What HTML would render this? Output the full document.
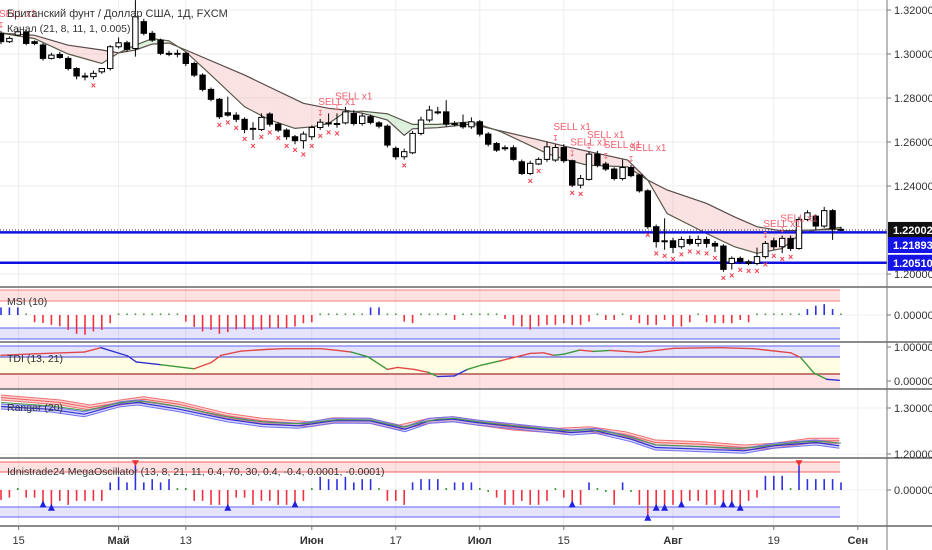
<!DOCTYPE html>
<html><head><meta charset="utf-8"><style>
html,body{margin:0;padding:0;background:#fff;}
svg{display:block;font-family:"Liberation Sans","DejaVu Sans",sans-serif;}
</style></head><body>
<svg id="chart" width="932" height="550" viewBox="0 0 932 550" xmlns="http://www.w3.org/2000/svg"></svg>
<script>
// ===== data =====
const opens=[1.3094,1.3056,1.3086,1.3101,1.3056,1.3041,1.2980,1.2998,1.2980,1.2934,1.2900,1.2897,1.2919,1.2934,1.3033,1.3051,1.3025,1.3147,1.3094,1.3063,1.3003,1.3003,1.3003,1.2957,1.2904,1.2839,1.2794,1.2733,1.2722,1.2703,1.2662,1.2657,1.2727,1.2681,1.2654,1.2624,1.2606,1.2624,1.2666,1.2687,1.2684,1.2687,1.2730,1.2684,1.2715,1.2687,1.2672,1.2571,1.2533,1.2551,1.2639,1.2700,1.2737,1.2737,1.2684,1.2687,1.2669,1.2692,1.2636,1.2593,1.2574,1.2574,1.2510,1.2457,1.2500,1.2521,1.2518,1.2575,1.2515,1.2404,1.2430,1.2545,1.2500,1.2477,1.2434,1.2484,1.2450,1.2378,1.2215,1.2151,1.2151,1.2124,1.2157,1.2139,1.2157,1.2139,1.2127,1.2048,1.2071,1.2056,1.2048,1.2079,1.2151,1.2124,1.2162,1.2116,1.2248,1.2263,1.2218,1.2288,1.2203];
const closes=[1.3056,1.3071,1.3101,1.3048,1.3048,1.2980,1.2995,1.2984,1.2934,1.2900,1.2899,1.2912,1.2934,1.3033,1.3051,1.3021,1.3169,1.3094,1.3063,1.3003,1.3002,1.3002,1.2957,1.2904,1.2839,1.2794,1.2715,1.2722,1.2703,1.2657,1.2661,1.2712,1.2681,1.2654,1.2624,1.2606,1.2636,1.2666,1.2690,1.2686,1.2683,1.2737,1.2684,1.2718,1.2689,1.2672,1.2586,1.2533,1.2556,1.2639,1.2700,1.2745,1.2736,1.2681,1.2683,1.2669,1.2692,1.2636,1.2590,1.2563,1.2573,1.2521,1.2457,1.2503,1.2521,1.2578,1.2575,1.2515,1.2404,1.2434,1.2545,1.2495,1.2477,1.2434,1.2484,1.2447,1.2378,1.2215,1.2147,1.2150,1.2121,1.2157,1.2139,1.2157,1.2139,1.2127,1.2021,1.2071,1.2056,1.2048,1.2079,1.2139,1.2124,1.2162,1.2116,1.2248,1.2278,1.2218,1.2288,1.2207,1.2200];
const highs=[1.3105,1.3080,1.3115,1.3110,1.3062,1.3050,1.3005,1.3010,1.2990,1.2940,1.2915,1.2925,1.2930,1.3040,1.3075,1.3060,1.3245,1.3160,1.3105,1.3070,1.3015,1.3020,1.3010,1.2965,1.2912,1.2848,1.2800,1.2806,1.2735,1.2712,1.2690,1.2730,1.2735,1.2690,1.2662,1.2632,1.2648,1.2675,1.2705,1.2730,1.2730,1.2760,1.2745,1.2730,1.2725,1.2695,1.2680,1.2580,1.2570,1.2650,1.2715,1.2765,1.2760,1.2790,1.2695,1.2725,1.2712,1.2700,1.2645,1.2600,1.2585,1.2585,1.2520,1.2515,1.2530,1.2600,1.2590,1.2590,1.2520,1.2450,1.2555,1.2560,1.2510,1.2485,1.2520,1.2495,1.2455,1.2385,1.2225,1.2253,1.2165,1.2170,1.2175,1.2175,1.2170,1.2150,1.2135,1.2080,1.2080,1.2065,1.2120,1.2150,1.2165,1.2175,1.2175,1.2260,1.2290,1.2270,1.2305,1.2295,1.2215];
const lows=[1.3045,1.3050,1.3080,1.3040,1.3040,1.2970,1.2975,1.2978,1.2925,1.2885,1.2880,1.2885,1.2910,1.2925,1.3025,1.3010,1.2988,1.3085,1.3055,1.2995,1.2990,1.2985,1.2945,1.2895,1.2830,1.2785,1.2705,1.2715,1.2690,1.2640,1.2609,1.2650,1.2670,1.2645,1.2610,1.2590,1.2570,1.2610,1.2655,1.2670,1.2665,1.2680,1.2675,1.2675,1.2680,1.2662,1.2575,1.2520,1.2520,1.2545,1.2630,1.2690,1.2725,1.2670,1.2670,1.2660,1.2660,1.2625,1.2580,1.2555,1.2560,1.2515,1.2450,1.2450,1.2495,1.2510,1.2510,1.2505,1.2395,1.2390,1.2425,1.2485,1.2468,1.2425,1.2425,1.2440,1.2370,1.2205,1.2120,1.2110,1.2095,1.2115,1.2130,1.2125,1.2120,1.2100,1.2010,1.2020,1.2045,1.2040,1.2040,1.2070,1.2110,1.2095,1.2105,1.2110,1.2240,1.2200,1.2210,1.2155,1.2195];
// channel cloud lines
const slowIdx=[0,4,8,12,14,16,18,20,22,29,36,39,41,43,46,48,49,52,56,65,67.4,74.6,77,79.3,84,87.3,90,92.8,97,100];
const slowVal=[1.3095,1.3085,1.3040,1.3018,1.3005,1.3018,1.3045,1.3050,1.3018,1.2904,1.2776,1.2753,1.2745,1.2731,1.2700,1.2630,1.2660,1.2665,1.2682,1.2601,1.2578,1.2518,1.2427,1.2382,1.2321,1.2260,1.2215,1.2197,1.2200,1.2203];
const fastIdx=[0,4,8,12,14,16,18,20,22,25,29,32,35,37,39,41,43,46,49,52,56,59.5,65,67.4,69.8,74.6,77,79.3,84,87.3,90,93,95.2,97,100];
const fastVal=[1.3095,1.3070,1.3000,1.2957,1.3005,1.3040,1.3070,1.3060,1.3010,1.2904,1.2760,1.2700,1.2662,1.2669,1.2684,1.2737,1.2740,1.2728,1.2680,1.2680,1.2692,1.2647,1.2548,1.2518,1.2495,1.2487,1.2427,1.2275,1.2184,1.2124,1.2094,1.2116,1.2184,1.2200,1.2212];
const crossIdx=[11,26,27,28,29,30,31,32,33,34,35,36,37,38,39,40,48,63,64,68,69,77,78,79,80,81,82,83,84,85,86,87,88,89,90,91,92,93,94];
const sellIdx=[0,38,40,66,68,70,72,75,91,93];
const levels=[1.21893,1.20510];
const lastPrice=1.22002;
const priceTicks=[1.32,1.30,1.28,1.26,1.24,1.20];
// MSI
const msi=[0.23,0.23,0.23,0,-0.22,-0.24,-0.30,-0.34,-0.45,-0.57,-0.60,-0.50,-0.45,-0.25,0.02,0.02,0,0.02,0.02,0.02,0.02,0.02,-0.20,-0.36,-0.50,-0.45,-0.57,-0.52,-0.44,-0.42,-0.45,-0.45,-0.39,-0.40,-0.39,-0.35,-0.25,-0.22,0.02,0.02,0.02,0.02,0.02,0.02,0.23,0.23,0.02,0,-0.20,-0.25,0.02,0.02,0.02,0.02,-0.15,0.02,0.02,0,0.02,0.02,-0.12,-0.32,-0.35,-0.44,-0.34,-0.30,-0.30,-0.25,-0.30,-0.30,-0.20,0.02,-0.15,-0.15,0.02,-0.15,-0.25,-0.30,-0.30,-0.15,-0.35,-0.35,-0.22,0.02,-0.22,-0.25,-0.25,-0.25,-0.15,-0.22,0,0.02,0,0.02,0,0.02,0.18,0.28,0.33,0.18,0.02];
// TDI
const tdiIdx=[0,4,9.9,11.9,15.1,16.1,19,23,25,26.2,28.6,31.7,33.7,38.1,40.1,41.7,43.7,46,47.2,49.2,50.8,52,54,55.5,57.1,59.4,61,63,64.6,65.8,67,68.9,70.5,72.5,76,80.1,85.6,89.6,94,95.2,96.8,98.3,99.8];
const tdiVal=[0.755,0.80,0.85,0.98,0.735,0.56,0.48,0.36,0.54,0.755,0.88,0.93,0.95,0.95,0.90,0.85,0.71,0.34,0.40,0.34,0.26,0.13,0.15,0.34,0.46,0.59,0.69,0.81,0.83,0.755,0.79,0.91,0.87,0.90,0.84,0.96,0.98,0.95,0.83,0.69,0.23,0.05,0.02];
const tdiCol="rrrbbbgrrrrrrrrggrrrgbbggrrrrggrgrrrrrrggbb";
// Ranger
const rngIdx=[0,7.1,10.6,14.2,17,21.2,26.9,31.1,36.8,39.6,43.9,47.4,51,53.8,56.6,60.9,66.5,70.1,74.3,77.9,83.5,88.5,92,96.3,99.8];
const rngUp=[1.3283,1.3174,1.3065,1.3174,1.3246,1.3137,1.2884,1.2776,1.2703,1.2790,1.2776,1.2630,1.2776,1.2812,1.2739,1.2630,1.2558,1.2594,1.2485,1.2304,1.2267,1.2196,1.2232,1.2341,1.2341];
const rngLoIdx=[0,5.7,9.9,14.2,16.3,21.2,26.9,31.1,35.4,39.6,43.9,48.1,51,53.8,56.6,62.3,67.9,70.8,75,77.9,83.5,88.5,92,97,99.8];
const rngLo=[1.2978,1.2920,1.2811,1.3028,1.3065,1.2920,1.2703,1.2594,1.2558,1.2667,1.2667,1.2485,1.2667,1.2703,1.2630,1.2522,1.2413,1.2450,1.2267,1.2087,1.2050,1.2015,1.2124,1.2196,1.2124];
// MegaOscillator
const osc=[-0.30,-0.23,0.02,-0.23,-0.23,-0.50,-0.60,-0.33,-0.45,-0.33,-0.33,-0.33,-0.33,0.23,0.40,0.23,0.75,0.23,0.33,0.23,0.33,0.02,0.02,-0.33,-0.33,-0.45,-0.45,-0.60,-0.23,-0.23,-0.45,-0.33,-0.33,-0.45,-0.45,-0.50,-0.33,0.02,0.40,0.33,0.33,0.40,0.23,0.33,0.33,0.02,-0.33,-0.33,-0.45,0.23,0.33,0.33,0.33,0.02,0.23,0.23,0.23,0.02,-0.02,-0.23,-0.45,-0.45,-0.33,-0.45,-0.45,-0.33,0.02,-0.23,-0.50,-0.45,0.23,0.02,-0.02,-0.45,0.23,-0.02,-0.45,-0.90,-0.60,-0.60,-0.45,-0.50,-0.33,-0.33,-0.45,-0.45,-0.50,-0.50,-0.60,-0.33,-0.23,0.43,0.43,0.43,0.02,0.75,0.33,0.33,0.33,0.33,0.23];
const buyTri=[5,6,27,35,68,77,78,79,81,86,87,88];
const sellTri=[16,95];
const timeLabels=["15","Май","13","Июн","17","Июл","15","Авг","19","Сен"];
const timeIdx=[2.1,14,22,37,47,57,67,80,92,102];
const boldLabel=[false,true,false,true,false,true,false,true,false,true];

// ===== scales =====
const svg=document.getElementById('chart');
const NS='http://www.w3.org/2000/svg';
const PLOT_R=887;
function xOf(i){return 1+i*8.4;}
function yP(p){return 10+(1.32-p)*2200;}
function yMsi(v){return 315-v*33;}
function yTdi(v){return 381-v*34;}
function yRng(v){return 408+(1.30-v)*460;}
function yOsc(v){return 490-v*33;}
function mk(tag,attrs,parent){const e=document.createElementNS(NS,tag);for(const k in attrs)e.setAttribute(k,attrs[k]);(parent||svg).appendChild(e);return e;}
function interp(xs,vs,x){if(x<=xs[0])return vs[0];for(let k=1;k<xs.length;k++){if(x<=xs[k]){const t=(x-xs[k-1])/(xs[k]-xs[k-1]);return vs[k-1]+t*(vs[k]-vs[k-1]);}}return vs[vs.length-1];}
function pts(ix,vs,f){return ix.map((i,k)=>xOf(i).toFixed(1)+','+f(vs[k]).toFixed(1)).join(' ');}

// ===== grid =====
const grid=mk('g',{});


timeIdx.forEach(i=>{mk('line',{x1:xOf(i),x2:xOf(i),y1:0,y2:526,stroke:'#ececec','stroke-width':1},grid);});
priceTicks.forEach(p=>{mk('line',{x1:0,x2:PLOT_R,y1:yP(p),y2:yP(p),stroke:'#ececec','stroke-width':1},grid);});
[yRng(1.30),yRng(1.20),yOsc(0),yMsi(0)].forEach(y=>{mk('line',{x1:0,x2:PLOT_R,y1:y,y2:y,stroke:'#f0f0f0','stroke-width':1},grid);});

// ===== cloud =====
const cloud=mk('g',{});


for(let s=0;s<400;s++){
  const i0=s*0.25,i1=(s+1)*0.25;
  const a0=interp(slowIdx,slowVal,i0),a1=interp(slowIdx,slowVal,i1),b0=interp(fastIdx,fastVal,i0),b1=interp(fastIdx,fastVal,i1);
  const col=(a0+a1)>=(b0+b1)?'rgba(240,150,150,0.28)':'rgba(120,200,120,0.25)';
  mk('polygon',{points:`${xOf(i0)},${yP(a0)} ${xOf(i1)},${yP(a1)} ${xOf(i1)},${yP(b1)} ${xOf(i0)},${yP(b0)}`,fill:col,stroke:'none'},cloud);
}
const sl=mk('polyline',{points:pts(slowIdx,slowVal,yP),fill:'none',stroke:'#5a4a4a','stroke-width':1.2});


const fl=mk('polyline',{points:pts(fastIdx,fastVal,yP),fill:'none',stroke:'#5a5a4a','stroke-width':1.2});



// ===== levels =====
const cur=mk('line',{x1:0,x2:PLOT_R,y1:yP(lastPrice),y2:yP(lastPrice),stroke:'#333','stroke-width':1,'stroke-dasharray':'1,2'});


levels.forEach(l=>{
  const ln=mk('line',{x1:0,x2:PLOT_R,y1:yP(l),y2:yP(l),stroke:'#1010e0','stroke-width':2.5});
  
  
});

// ===== candles =====
const cg=mk('g',{});


for(let i=0;i<opens.length;i++){
  const x=xOf(i),o=opens[i],c=closes[i];
  const w=mk('line',{x1:x,x2:x,y1:yP(highs[i]),y2:yP(lows[i]),stroke:'#000','stroke-width':1},cg);
  
  
  const top=yP(Math.max(o,c)),bot=yP(Math.min(o,c));
  const b=mk('rect',{x:x-2.7,y:top,width:5.4,height:Math.max(1,bot-top),fill:c>=o?'#fff':'#000',stroke:'#000','stroke-width':1},cg);
  
  
}
crossIdx.forEach(i=>{
  const t=mk('text',{x:xOf(i),y:yP(lows[i])+9,'font-size':9,fill:'#f04050','text-anchor':'middle','font-weight':'bold'},cg);
  t.textContent='×';
  
  
});
sellIdx.forEach(i=>{
  const t=mk('text',{x:xOf(i)-2,y:yP(highs[i])-14,'font-size':10,fill:'#f06070'},cg);
  t.textContent='SELL x1';
  
  
  const a=mk('text',{x:xOf(i),y:yP(highs[i])-3,'font-size':8,fill:'#f06070','text-anchor':'middle'},cg);
  a.textContent='↧';
  
  
});

// ===== MSI pane =====
function band(y1,y2,fill,stroke,name){
  const r=mk('rect',{x:0,y:y1,width:840,height:y2-y1,fill:fill});
  
  
  mk('line',{x1:0,x2:840,y1:y1,y2:y1,stroke:stroke,'stroke-width':1});
  mk('line',{x1:0,x2:840,y1:y2,y2:y2,stroke:stroke,'stroke-width':1});
}
band(290,301,'rgba(255,120,120,0.22)','#f08080','msi-overbought-band');
band(328,339,'rgba(120,120,255,0.2)','#6060f0','msi-oversold-band');
function histCol(v){return Math.abs(v)<0.05?'#3a9a3a':(v>0?'#3030e0':'#f03040');}
msi.forEach((v,i)=>{
  const y0=yMsi(0),y1=yMsi(v);
  const h=Math.abs(v)<0.05?1.5:Math.abs(y1-y0);
  const r=mk('rect',{x:xOf(i)-0.8,y:Math.abs(v)<0.05?y0-1.5:Math.min(y0,y1),width:1.6,height:h,fill:histCol(v)});
  
  
});

// ===== TDI pane =====
const tb=mk('rect',{x:0,y:346,width:840,height:11,fill:'rgba(120,120,255,0.2)'});


const ty=mk('rect',{x:0,y:357,width:840,height:17,fill:'#fffde2'});


const tr=mk('rect',{x:0,y:374,width:840,height:14,fill:'rgba(255,120,120,0.22)'});


mk('line',{x1:0,x2:840,y1:346,y2:346,stroke:'#6060f0'});
mk('line',{x1:0,x2:840,y1:357,y2:357,stroke:'#4040d0'});
mk('line',{x1:0,x2:840,y1:374,y2:374,stroke:'#b05050','stroke-width':1.5});
const tcol={r:'#e04848',g:'#3a9a3a',b:'#3030d0'};
for(let k=0;k<tdiIdx.length-1;k++){
  const s=mk('line',{x1:xOf(tdiIdx[k]),y1:yTdi(tdiVal[k]),x2:xOf(tdiIdx[k+1]),y2:yTdi(tdiVal[k+1]),stroke:tcol[tdiCol[k]],'stroke-width':1.4,'stroke-linecap':'round'});
  
  
}

// ===== Ranger pane =====
const rg=mk('g',{});


const rUpPts=pts(rngIdx,rngUp,yRng),rUpPts2=pts(rngIdx,rngUp,v=>yRng(v)+5);
mk('polygon',{points:rUpPts+' '+rUpPts2.split(' ').reverse().join(' '),fill:'rgba(240,120,120,0.35)'},rg);
mk('polyline',{points:rUpPts,fill:'none',stroke:'#f07070','stroke-width':1},rg);
mk('polyline',{points:pts(rngIdx,rngUp,v=>yRng(v)+2.5),fill:'none',stroke:'#f06060','stroke-width':1},rg);
mk('polyline',{points:rUpPts2,fill:'none',stroke:'#f07070','stroke-width':1},rg);
const rLoPts=pts(rngLoIdx,rngLo,yRng),rLoPts2=pts(rngLoIdx,rngLo,v=>yRng(v)-5);
mk('polygon',{points:rLoPts+' '+rLoPts2.split(' ').reverse().join(' '),fill:'rgba(120,120,240,0.3)'},rg);
mk('polyline',{points:rLoPts,fill:'none',stroke:'#7070f0','stroke-width':1},rg);
mk('polyline',{points:pts(rngLoIdx,rngLo,v=>yRng(v)-2.5),fill:'none',stroke:'#3030d0','stroke-width':1.2},rg);
mk('polyline',{points:rLoPts2,fill:'none',stroke:'#7070f0','stroke-width':1},rg);
const mid=[];for(let i=0;i<=100;i+=2){mid.push(xOf(i).toFixed(1)+','+yRng((interp(rngIdx,rngUp,i)+2*interp(rngLoIdx,rngLo,i))/3+0.004).toFixed(1));}
mk('polyline',{points:mid.join(' '),fill:'none',stroke:'#4a9a4a','stroke-width':1},rg);

// ===== Oscillator pane =====
band(462,472,'rgba(255,120,120,0.22)','#f06060','osc-upper-band');
band(507,517,'rgba(120,120,255,0.2)','#6060f0','osc-lower-band');
osc.forEach((v,i)=>{
  const y0=yOsc(0),y1=yOsc(v);
  const small=Math.abs(v)<0.05;
  const r=mk('rect',{x:xOf(i)-0.8,y:small?(v>=0?y0-2:y0):Math.min(y0,y1),width:1.6,height:small?2:Math.abs(y1-y0),fill:histCol(v)});
  
  
});
buyTri.forEach(i=>{
  const x=xOf(i),y=yOsc(osc[i]);
  const t=mk('polygon',{points:`${x-3.5},${y+1} ${x+3.5},${y+1} ${x},${y-6}`,fill:'#2020e0'});
  
  
});
sellTri.forEach(i=>{
  const x=xOf(i),y=yOsc(osc[i]);
  const t=mk('polygon',{points:`${x-3.5},${y-5} ${x+3.5},${y-5} ${x},${y+1}`,fill:'#f03030'});
  
  
});

// ===== separators & axes =====
[287,342,389,458,526].forEach(y=>{
  const l=mk('line',{x1:0,x2:932,y1:y,y2:y,stroke:'#666','stroke-width':1.5});
  
  
});
const ax=mk('line',{x1:PLOT_R,x2:PLOT_R,y1:0,y2:550,stroke:'#777','stroke-width':1});


function axLabel(txt,y,name){
  mk('line',{x1:PLOT_R,x2:PLOT_R+4,y1:y,y2:y,stroke:'#777'});
  const t=mk('text',{x:PLOT_R+7,y:y+4,'font-size':11,fill:'#333'});
  t.textContent=txt;
  
  
}
priceTicks.forEach(p=>axLabel(p.toFixed(5),yP(p),'price-tick-label'));
axLabel('0.00000',yMsi(0),'msi-axis-label');
axLabel('1.00000',yTdi(1),'tdi-axis-label');
axLabel('0.00000',yTdi(0),'tdi-axis-label');
axLabel('1.30000',yRng(1.30),'ranger-axis-label');
axLabel('1.20000',yRng(1.20),'ranger-axis-label');
axLabel('0.00000',yOsc(0),'osc-axis-label');
function tag(txt,cy,bg,name){
  const r=mk('rect',{x:PLOT_R+1,y:cy-8,width:45,height:16,fill:bg});
  
  
  const t=mk('text',{x:PLOT_R+6,y:cy+4,'font-size':11,fill:'#fff','font-weight':'bold'});
  t.textContent=txt;
  
  
}
tag('1.22002',yP(lastPrice),'#111','last-price-tag');
tag(levels[0].toFixed(5),245,'#1414e6','level-tag-upper');
tag(levels[1].toFixed(5),yP(levels[1]),'#1414e6','level-tag-lower');
timeLabels.forEach((s,k)=>{
  const x=xOf(timeIdx[k]);
  mk('line',{x1:x,x2:x,y1:526,y2:530,stroke:'#777'});
  const t=mk('text',{x:x,y:544,'font-size':11,fill:'#333','text-anchor':'middle','font-weight':boldLabel[k]?'bold':'normal'});
  t.textContent=s;
  
  
});

// ===== titles =====
function title(txt,x,y,size,name){
  const t=mk('text',{x:x,y:y,'font-size':size,fill:'#333'});
  t.textContent=txt;
  
  
}
title('Британский фунт / Доллар США, 1Д, FXCM',7,17,11,'chart-title');
title('Канал (21, 8, 11, 1, 0.005)',7,32,10.5,'channel-legend');
title('MSI (10)',7,305,10.5,'msi-legend');
title('TDI (13, 21)',7,362,10.5,'tdi-legend');
title('Ranger (20)',7,411,10.5,'ranger-legend');
title('Idnistrade24 MegaOscillator (13, 8, 21, 11, 0.4, 70, 30, 0.4, -0.4, 0.0001, -0.0001)',7,475,10.5,'oscillator-legend');
</script>
</body></html>
